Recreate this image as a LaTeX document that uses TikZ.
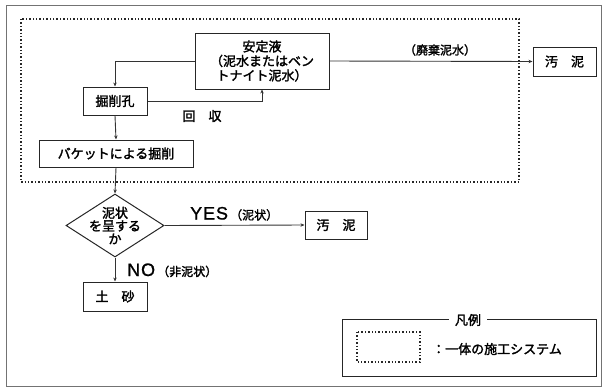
\documentclass[tikz,border=0pt]{standalone}
\usepackage{fontspec}
\setmainfont{Noto Sans CJK JP}[FakeBold=2]
\newfontfamily\latfont{Liberation Sans}[LetterSpace=5,FakeBold=1]
\usetikzlibrary{shapes.geometric,arrows.meta}
\begin{document}
\begin{tikzpicture}[x=1pt,y=-1pt,
  box/.style={draw=black!85,line width=1pt,inner sep=0pt,font=\fontsize{13}{14.5}\selectfont},
  conn/.style={draw=black!80,line width=0.9pt},
  arr/.style={conn,-{Stealth[length=4pt,width=3.4pt]}},
  lbl/.style={font=\fontsize{13}{14.5}\selectfont,inner sep=0pt},
  sysbox/.style={draw=black!85,line width=1.4pt,dotted}]
\useasboundingbox (0,0) rectangle (604,388);
% outer frame
\draw[black!55,line width=1pt] (6,5) rectangle (601,386);
% integrated system box
\draw[sysbox] (21,19) rectangle (519,182);
% nodes
\node[box,minimum width=134pt,minimum height=56pt,align=center] (antei) at (262,61)
  {安定液\\（泥水またはベン\\トナイト泥水）};
\node[box,minimum width=63pt,minimum height=29pt] (osei1) at (564.5,61.5) {汚　泥};
\node[box,minimum width=64pt,minimum height=28pt] (kussaku) at (115,101) {掘削孔};
\node[box,minimum width=154pt,minimum height=27pt] (bucket) at (116,153.5) {バケットによる掘削};
\node[draw=black!85,line width=1pt,diamond,minimum width=98pt,minimum height=63pt,inner sep=0pt] (dia) at (115,225.5) {};
\node[lbl,align=center,font=\fontsize{13}{13}\selectfont] (diatext) at (dia) {泥状\\を呈する\\か};
\node[box,minimum width=62pt,minimum height=28pt] (osei2) at (336,225) {汚　泥};
\node[box,minimum width=64pt,minimum height=29pt] (dosha) at (115,296.5) {土　砂};
% connectors
\draw[arr] (antei.west) -| (kussaku.north);
\draw[arr] (kussaku.east) -| (antei.south);
\draw[arr] (kussaku.south) -- (bucket.north);
\draw[arr] (bucket.south) -- (dia.north);
\draw[arr] (antei.east) -- (osei1.west);
\draw[arr] (dia.east) -- (osei2.west);
\draw[arr] (dia.south) -- (dosha.north);
% labels
\node[lbl,font=\fontsize{12}{14}\selectfont] (lhaiki) at (440,50) {（廃棄泥水）};
\node[lbl] (lkaishu) at (202,116) {回　収};
\node[lbl,anchor=base west] (lyes) at (190,219.5) {{\latfont\fontsize{18}{18}\selectfont YES}\,{\fontsize{12}{14}\selectfont（泥状）}};
\node[lbl,anchor=base west] (lno) at (127,276) {{\latfont\fontsize{18}{18}\selectfont NO}\,{\fontsize{12}{14}\selectfont（非泥状）}};
% legend
\node[draw=black!85,line width=1pt,minimum width=254pt,minimum height=57pt,inner sep=0pt] (legend) at (469,347.5) {};
\node[lbl,fill=white,inner xsep=6pt] (legtitle) at (468,320) {凡例};
\draw[sysbox,line width=1.2pt] (357,332) rectangle (420,362);
\node[lbl,anchor=west] (legtext) at (432,349) {：一体の施工システム};
\end{tikzpicture}
\end{document}
